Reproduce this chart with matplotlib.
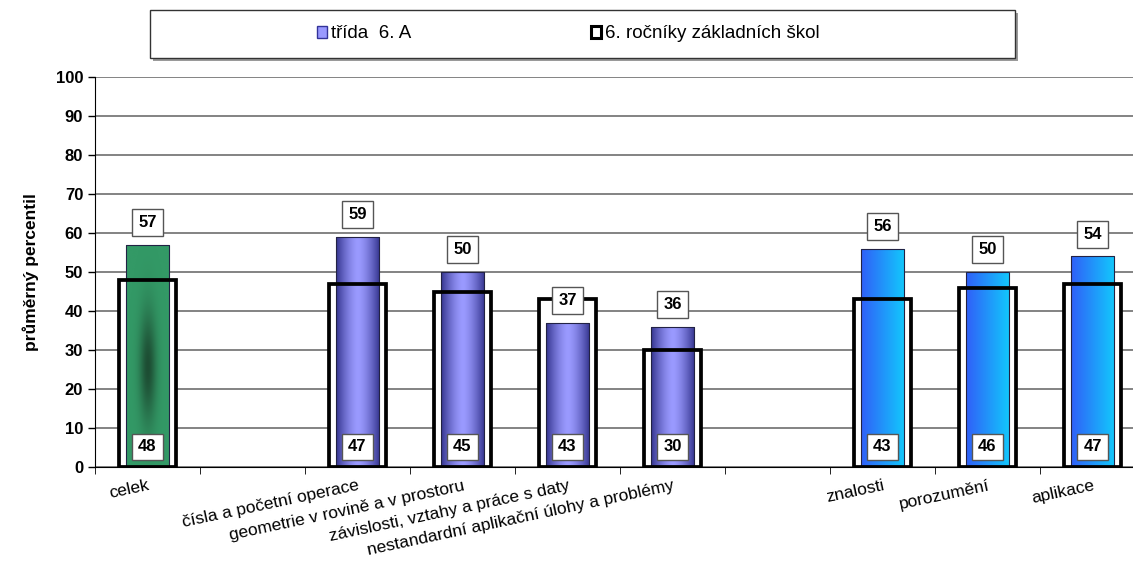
import matplotlib
matplotlib.use("Agg")
import matplotlib.pyplot as plt
import numpy as np
from matplotlib.colors import LinearSegmentedColormap
from matplotlib.patches import Patch, Rectangle

categories = [
    "celek", "",
    "čísla a početní operace",
    "geometrie v rovině a v prostoru",
    "závislosti, vztahy a práce s daty",
    "nestandardní aplikační úlohy a problémy",
    "",
    "znalosti", "porozumění", "aplikace",
]
trida = [57, np.nan, 59, 50, 37, 36, np.nan, 56, 50, 54]
rocniky = [48, np.nan, 47, 45, 43, 30, np.nan, 43, 46, 47]
groups = ["celek", None, "obsah", "obsah", "obsah", "obsah", None,
          "kog", "kog", "kog"]

plt.rcParams["font.family"] = ["Liberation Sans", "DejaVu Sans"]

CMAPS = {
    "celek": LinearSegmentedColormap.from_list("g", ["#339966", "#1d4d33"]),
    "obsah": LinearSegmentedColormap.from_list("p", ["#35358f", "#9a9aff"]),
    "kog": LinearSegmentedColormap.from_list("b", ["#3060f8", "#12c8fc"]),
}


def gradient(kind):
    """Return a 2D array of gradient values for a bar"""
    xs = np.linspace(-1, 1, 64)
    ys = np.linspace(0, 1, 128)
    X, Y = np.meshgrid(xs, ys)
    if kind == "celek":
        return np.exp(-(X ** 2) / 0.15 - (Y - 0.45) ** 2 / 0.06)
    if kind == "obsah":
        return 1 - np.abs(X) ** 1.5
    return (X + 1) / 2


def draw_chart():
    fig = plt.figure(figsize=(11.33, 5.62), dpi=100)
    ax = fig.add_axes([95 / 1133, 95 / 562, 1050 / 1133, 390 / 562])

    x = np.arange(len(categories))
    base = {"celek": "#339966", "obsah": "#8080ee", "kog": "#1f8ff9"}
    colors = [base[g] if g else "white" for g in groups]

    # white filled boxes behind, black frames in front
    ax.bar(x, rocniky, width=0.55, color="white", edgecolor="none", zorder=2)
    bars = ax.bar(x, trida, width=0.41, color=colors, edgecolor="none",
                  zorder=3)
    for bar, g in zip(bars, groups):
        if g is None:
            continue
        x0, w = bar.get_x(), bar.get_width()
        h = bar.get_height()
        im = ax.imshow(gradient(g), extent=(x0, x0 + w, 0, h),
                       origin="lower", aspect="auto", cmap=CMAPS[g],
                       vmin=0, vmax=1, zorder=3.1, interpolation="bilinear")
        im.set_clip_path(bar)
    ax.bar(x, trida, width=0.41, fill=False, edgecolor="#222244",
           linewidth=0.8, zorder=3.2)
    ax.bar(x, rocniky, width=0.55, fill=False, edgecolor="black",
           linewidth=2.7, zorder=4)

    box = dict(boxstyle="square,pad=0.35", fc="white", ec="#555555", lw=1)
    for xi, v in zip(x, trida):
        if np.isnan(v):
            continue
        ax.annotate(f"{v:.0f}", (xi, v), xytext=(0, 16),
                    textcoords="offset points", ha="center", va="center",
                    fontsize=12, fontweight="bold", bbox=box, zorder=6)
    for xi, v in zip(x, rocniky):
        if np.isnan(v):
            continue
        ax.annotate(f"{v:.0f}", (xi, 0), xytext=(0, 14.5),
                    textcoords="offset points", ha="center", va="center",
                    fontsize=12, fontweight="bold", bbox=box, zorder=6)

    ax.set_xlim(-0.5, len(categories) - 0.5)
    ax.set_ylim(0, 100)
    ax.set_yticks(range(0, 101, 10))
    ax.yaxis.grid(True, color="#7a7a7a", linewidth=1.3)
    ax.set_axisbelow(True)
    ax.tick_params(axis="y", direction="out", length=5, labelsize=12,
                   width=1)
    for lab in ax.get_yticklabels():
        lab.set_fontweight("bold")

    ax.set_xticks(x)
    ax.set_xticklabels(categories, rotation=12, ha="right",
                       rotation_mode="anchor", fontsize=12.5)
    ax.tick_params(axis="x", which="major", length=0, pad=8)
    ax.set_xticks(np.arange(-0.5, len(categories)), minor=True)
    ax.tick_params(axis="x", which="minor", direction="out", length=5)

    for side in ("top", "right"):
        ax.spines[side].set_visible(False)
    ax.spines["left"].set_color("black")
    ax.spines["bottom"].set_color("black")

    ax.set_ylabel("průměrný percentil", fontsize=12.5, fontweight="bold",
                  labelpad=12)

    # legend box with shadow
    lx, ly, lw, lh = 150 / 1133, 1 - 58 / 562, 865 / 1133, 48 / 562
    fig.patches.append(Rectangle((lx + 3 / 1133, ly - 3 / 562), lw, lh,
                                 transform=fig.transFigure, fc="#9a9a9a",
                                 ec="none", zorder=0))
    fig.patches.append(Rectangle((lx, ly), lw, lh, transform=fig.transFigure,
                                 fc="white", ec="#333333", lw=1, zorder=1))
    handles = [
        Patch(facecolor="#9999ff", edgecolor="#333399", linewidth=1),
        Patch(facecolor="white", edgecolor="black", linewidth=2.2),
    ]
    fig.legend(handles, ["třída  6. A", "6. ročníky základních škol"],
               loc="center", bbox_to_anchor=(568 / 1133, 1 - 34 / 562),
               ncol=2, frameon=False, fontsize=13.5, handlelength=0.55,
               handleheight=0.55, handletextpad=0.2, columnspacing=9.6)

    fig.savefig("out.png", dpi=100)


def main():
    draw_chart()


if __name__ == "__main__":
    main()
